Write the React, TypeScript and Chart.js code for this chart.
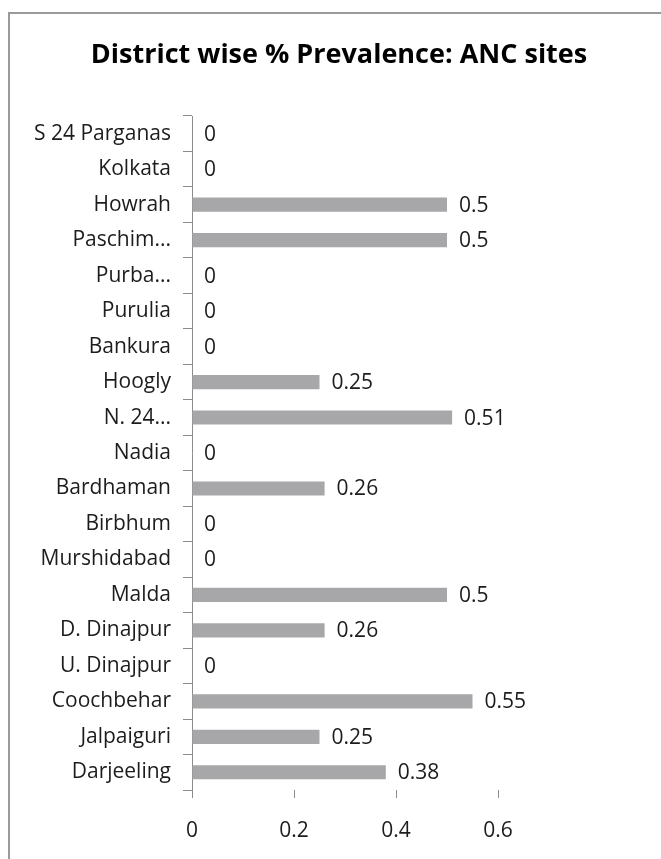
import React, { useEffect, useRef } from "react";
import { Chart, registerables } from "chart.js";

Chart.register(...registerables);

const TITLE = "District wise % Prevalence: ANC sites";
const DISTRICTS = [
  "S 24 Parganas",
  "Kolkata",
  "Howrah",
  "Paschim...",
  "Purba...",
  "Purulia",
  "Bankura",
  "Hoogly",
  "N. 24...",
  "Nadia",
  "Bardhaman",
  "Birbhum",
  "Murshidabad",
  "Malda",
  "D. Dinajpur",
  "U. Dinajpur",
  "Coochbehar",
  "Jalpaiguri",
  "Darjeeling",
];
const PREVALENCE = [0, 0, 0.5, 0.5, 0, 0, 0, 0.25, 0.51, 0, 0.26, 0, 0, 0.5, 0.26, 0, 0.55, 0.25, 0.38];
const X_MIN = 0;
const X_MAX = 0.6;
const X_STEP = 0.2;

const FONT = "'Open Sans', 'DejaVu Sans', sans-serif";
const TEXT = "#1c1c1c";
const AXIS = "#8c8c8c";
const BAR = "#a7a7aa";

const decorPlugin = {
  id: "decor",
  beforeDraw(chart: any) {
    const ctx = chart.ctx;
    ctx.save();
    ctx.fillStyle = "#ffffff";
    ctx.fillRect(0, 0, chart.width, chart.height);
    ctx.strokeStyle = "#9a9a9a";
    ctx.lineWidth = 2;
    ctx.beginPath();
    ctx.moveTo(9, chart.height);
    ctx.lineTo(9, 13);
    ctx.lineTo(chart.width, 13);
    ctx.stroke();
    ctx.fillStyle = "#000000";
    ctx.font = `bold 27px ${FONT}`;
    ctx.textAlign = "center";
    ctx.textBaseline = "middle";
    ctx.fillText(TITLE, 339, 55);
    ctx.restore();
  },
};

const valueLabelPlugin = {
  id: "valueLabels",
  afterDatasetsDraw(chart: any) {
    const ctx = chart.ctx;
    const meta = chart.getDatasetMeta(0);
    const data = chart.data.datasets[0].data;
    ctx.save();
    ctx.fillStyle = TEXT;
    ctx.font = `21px ${FONT}`;
    ctx.textAlign = "left";
    ctx.textBaseline = "middle";
    meta.data.forEach((el: any, i: number) => {
      ctx.fillText(String(data[i]), el.x + 12, el.y + 1);
    });
    ctx.restore();
  },
};

export default function App() {
  const ref = useRef<HTMLCanvasElement | null>(null);

  useEffect(() => {
    if (!ref.current) return;
    const chart = new Chart(ref.current, {
      type: "bar",
      data: {
        labels: DISTRICTS,
        datasets: [
          {
            data: PREVALENCE,
            backgroundColor: BAR,
            borderWidth: 0,
            barPercentage: 0.8,
            categoryPercentage: 0.5,
          },
        ],
      },
      options: {
        indexAxis: "y",
        responsive: false,
        animation: false,
        layout: { padding: { left: 0, right: 163, top: 116, bottom: 19 } },
        plugins: {
          legend: { display: false },
          title: { display: false },
          tooltip: { enabled: false },
        },
        scales: {
          x: {
            type: "linear",
            min: X_MIN,
            max: X_MAX,
            afterFit: (s: any) => {
              s.height = 50;
            },
            ticks: {
              stepSize: X_STEP,
              color: TEXT,
              font: { family: FONT, size: 21 },
              padding: 20,
              maxRotation: 0,
            },
            grid: {
              drawOnChartArea: false,
              drawTicks: true,
              tickLength: 8,
              color: AXIS,
            },
            border: { display: false },
          },
          y: {
            type: "category",
            afterFit: (s: any) => {
              s.width = 192;
            },
            ticks: {
              color: TEXT,
              font: { family: FONT, size: 21 },
              padding: 12,
              autoSkip: false,
            },
            grid: {
              offset: true,
              drawOnChartArea: false,
              drawTicks: true,
              tickLength: 9,
              color: AXIS,
            },
            border: { display: true, color: AXIS, width: 1 },
          },
        },
      },
      plugins: [decorPlugin, valueLabelPlugin],
    });
    return () => chart.destroy();
  }, []);

  return (
    <div style={{ position: "absolute", left: 0, top: 0, width: 661, height: 859 }}>
      <canvas ref={ref} width={661} height={859} style={{ display: "block" }} />
    </div>
  );
}
